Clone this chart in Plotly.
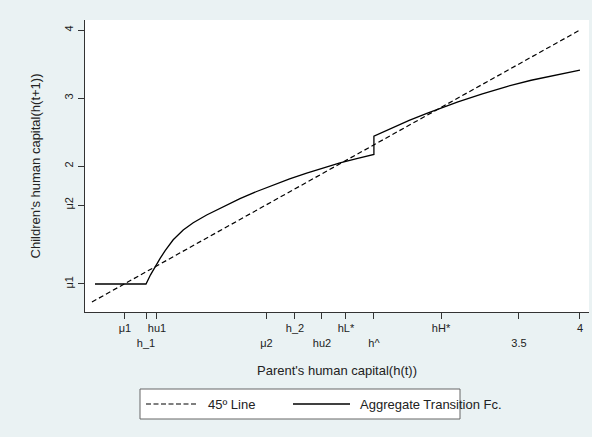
import plotly.graph_objects as go

# ---------------- data ----------------
line45_x = [0.0, 4.0]
line45_y = [0.0, 4.0]

# aggregate transition function h(t) -> h(t+1)
trans_h = [0.025, 0.443, 0.48, 0.516, 0.56, 0.60, 0.666, 0.748, 0.83, 0.94, 1.076, 1.213,
           1.35, 1.486, 1.62, 1.76, 1.90, 2.033, 2.17, 2.311,
           2.311, 2.45, 2.60, 2.75, 2.861, 3.0, 3.2, 3.4, 3.6, 3.8, 4.0]
trans_y = [0.265, 0.265, 0.40, 0.52, 0.645, 0.755, 0.915, 1.06, 1.165, 1.28, 1.405, 1.52,
           1.625, 1.72, 1.81, 1.895, 1.975, 2.045, 2.11, 2.17,
           2.44, 2.555, 2.67, 2.778, 2.856, 2.943, 3.061, 3.169, 3.261, 3.341, 3.41]

x_tick_vals = [0.27, 0.443, 0.533, 1.43, 1.664, 1.885, 2.082, 2.311, 2.861, 3.5, 4.0]
x_tick_text = ["μ1", "h_1", "hu1", "μ2", "h_2", "hu2", "hL*", "h^", "hH*", "3.5", "4"]
x_tick_lower_row = [False, True, False, True, False, True, False, True, False, True, False]

y_tick_vals = [0.265, 1.426, 2, 3, 4]
y_tick_text = ["μ1", "μ2", "2", "3", "4"]

legend_labels = ["45º Line", "Aggregate Transition Fc."]

# ---------------- figure ----------------
FONT = "Liberation Sans, Arial, sans-serif"
BG = "#EAF2F3"

fig = go.Figure()
fig.add_trace(go.Scatter(x=line45_x, y=line45_y, mode="lines", name=legend_labels[0],
                         line=dict(color="black", width=1.2, dash="5px,3px"),
                         showlegend=False, hoverinfo="skip"))
fig.add_trace(go.Scatter(x=trans_h, y=trans_y, mode="lines", name=legend_labels[1],
                         line=dict(color="black", width=1.3),
                         showlegend=False, hoverinfo="skip"))

x_text = [("<br>" + t) if low else t for t, low in zip(x_tick_text, x_tick_lower_row)]

fig.update_xaxes(range=[-0.057, 4.074], tickmode="array", tickvals=x_tick_vals,
                 ticktext=x_text, tickangle=0, ticks="outside", ticklen=6, tickcolor="#333",
                 tickwidth=1, showline=True, linecolor="#333", linewidth=1,
                 showgrid=False, zeroline=False, automargin=False,
                 tickfont=dict(family=FONT, size=11, color="#222"),
                 title=dict(text="Parent's human capital(h(t))",
                            font=dict(family=FONT, size=13, color="#222"),
                            standoff=18))
fig.update_yaxes(range=[-0.147, 4.147], tickmode="array", tickvals=y_tick_vals,
                 ticktext=y_tick_text, tickangle=-90, ticks="outside", ticklen=6,
                 tickcolor="#333", tickwidth=1, showline=True, linecolor="#333",
                 linewidth=1, showgrid=False, zeroline=False, automargin=False,
                 ticklabelstandoff=1,
                 tickfont=dict(family=FONT, size=11, color="#222"),
                 title=dict(text="Children's human capital(h(t+1))",
                            font=dict(family=FONT, size=13, color="#222"),
                            standoff=19))

# manual legend (box, line samples, labels) in pixel-like paper coordinates
W, H = 592, 437
L, R, T, B = 85, 3, 20, 125
pw, ph = W - L - R, H - T - B

def px(xp):
    return (xp - L) / pw

def py(yp):
    return (H - B - yp) / ph

shapes = [
    dict(type="rect", xref="paper", yref="paper", x0=px(140), x1=px(460),
         y0=py(419), y1=py(389), line=dict(color="#666", width=1), fillcolor="white",
         layer="below"),
    dict(type="line", xref="paper", yref="paper", x0=px(146), x1=px(198),
         y0=py(404), y1=py(404), line=dict(color="black", width=1.2, dash="5px,2.5px")),
    dict(type="line", xref="paper", yref="paper", x0=px(293), x1=px(350),
         y0=py(404), y1=py(404), line=dict(color="black", width=1.3)),
]
annotations = [
    dict(xref="paper", yref="paper", x=px(206), y=py(404), text=legend_labels[0],
         showarrow=False, xanchor="left", yanchor="middle",
         font=dict(family=FONT, size=13, color="#222")),
    dict(xref="paper", yref="paper", x=px(358), y=py(404), text=legend_labels[1],
         showarrow=False, xanchor="left", yanchor="middle",
         font=dict(family=FONT, size=13, color="#222")),
]

fig.update_layout(width=W, height=H, margin=dict(l=L, r=R, t=T, b=B),
                  paper_bgcolor=BG, plot_bgcolor="white", showlegend=False,
                  shapes=shapes, annotations=annotations)

fig.write_html("out.html", config={"displayModeBar": False},
               post_script="document.body.style.margin='0';document.body.style.overflow='hidden';")
